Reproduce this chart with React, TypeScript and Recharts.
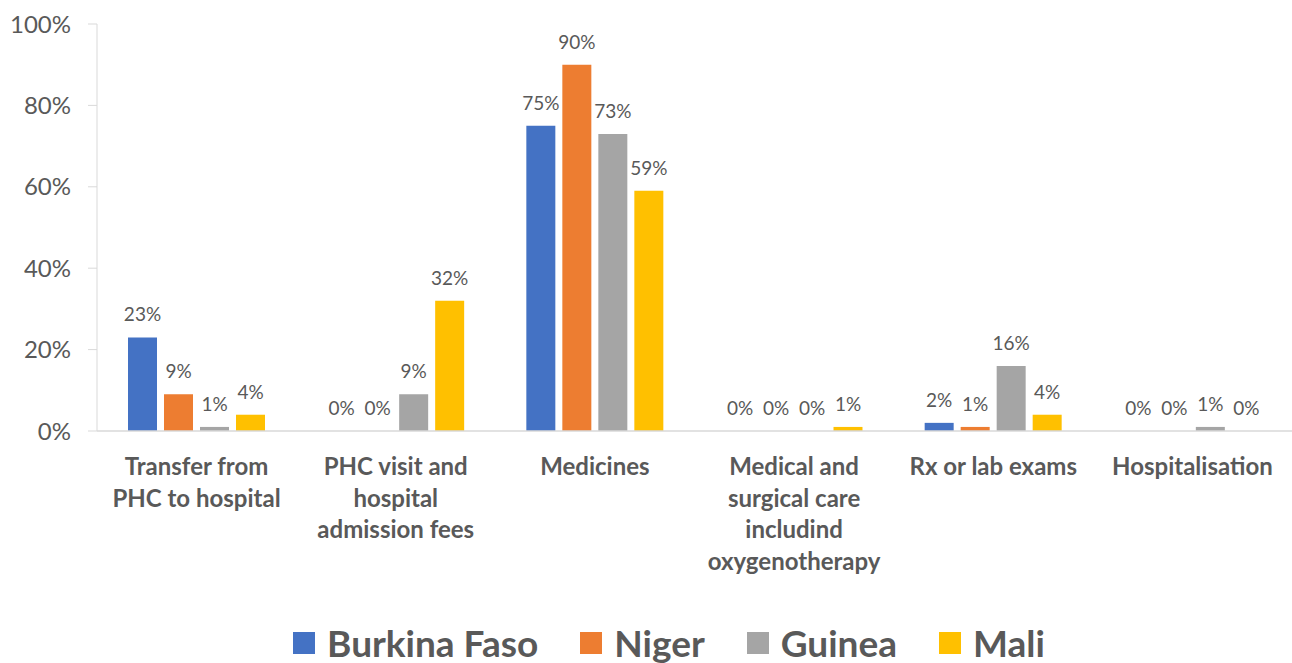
import React from 'react';
import { BarChart, Bar, XAxis, YAxis, Legend, LabelList } from 'recharts';

const categories = [
  'Transfer from\nPHC to hospital',
  'PHC visit and\nhospital\nadmission fees',
  'Medicines',
  'Medical and\nsurgical care\nincludind\noxygenotherapy',
  'Rx or lab exams',
  'Hospitalisation',
];

const burkinaFaso = [23, 0, 75, 0, 2, 0];
const niger = [9, 0, 90, 0, 1, 0];
const guinea = [1, 9, 73, 0, 16, 1];
const mali = [4, 32, 59, 1, 4, 0];

const yTicks = [0, 20, 40, 60, 80, 100];

const series = [
  { key: 'bf', name: 'Burkina Faso', color: '#4472C4', values: burkinaFaso },
  { key: 'ne', name: 'Niger', color: '#ED7D31', values: niger },
  { key: 'gn', name: 'Guinea', color: '#A5A5A5', values: guinea },
  { key: 'ml', name: 'Mali', color: '#FFC000', values: mali },
];

const data = categories.map((cat, i) => {
  const row: Record<string, string | number> = { cat };
  series.forEach((s) => {
    row[s.key] = s.values[i];
  });
  return row;
});

const TEXT = '#595959';
const FONT = 'Lato, "Open Sans", sans-serif';

// multi-line category labels under the axis
const CategoryTick = (props: any) => {
  const { x, y, payload } = props;
  const lines = String(payload.value).split('\n');
  return (
    <text
      x={x}
      y={y + 44}
      textAnchor="middle"
      fill={TEXT}
      fontSize={24}
      fontWeight={700}
      fontFamily={FONT}
    >
      {lines.map((line, i) => (
        <tspan key={i} x={x} dy={i === 0 ? 0 : 31.5}>
          {line}
        </tspan>
      ))}
    </text>
  );
};

const LegendContent = () => (
  <div
    style={{
      display: 'flex',
      justifyContent: 'center',
      alignItems: 'center',
      height: 40,
      paddingLeft: 88,
      fontFamily: FONT,
    }}
  >
    {series.map((s) => (
      <div key={s.key} style={{ display: 'flex', alignItems: 'center', marginRight: 42 }}>
        <div style={{ width: 22, height: 22, background: s.color, marginRight: 12 }} />
        <span style={{ fontSize: 37, fontWeight: 700, color: TEXT, lineHeight: '40px' }}>
          {s.name}
        </span>
      </div>
    ))}
  </div>
);

const App: React.FC = () => {
  return (
    <div style={{ position: 'absolute', left: 0, top: 0, background: '#fff' }}>
      <BarChart
        width={1292}
        height={663}
        data={data}
        margin={{ top: 24, right: 0, left: 0, bottom: 0 }}
        barGap={7}
        barSize={29}
      >
        <XAxis
          dataKey="cat"
          interval={0}
          tick={<CategoryTick />}
          tickLine={false}
          tickSize={0}
          tickMargin={0}
          axisLine={{ stroke: '#D9D9D9', strokeWidth: 1.5 }}
          height={192}
        />
        <YAxis
          domain={[0, 100]}
          ticks={yTicks}
          tickFormatter={(v) => `${v}%`}
          width={97}
          tickSize={9}
          tickMargin={17}
          axisLine={{ stroke: '#D9D9D9' }}
          tickLine={{ stroke: '#D9D9D9' }}
          tick={{ fill: TEXT, fontSize: 24, fontFamily: FONT }}
        />
        <Legend verticalAlign="bottom" height={40} content={<LegendContent />} />
        {series.map((s) => (
          <Bar
            key={s.key}
            dataKey={s.key}
            name={s.name}
            fill={s.color}
            minPointSize={(v: any) => (v === 0 ? 0.01 : 0)}
            isAnimationActive={false}
          >
            <LabelList
              dataKey={s.key}
              position="top"
              offset={16}
              formatter={(v: any) => `${v}%`}
              style={{ fill: TEXT, fontSize: 19, fontFamily: FONT }}
            />
          </Bar>
        ))}
      </BarChart>
    </div>
  );
};

export default App;
